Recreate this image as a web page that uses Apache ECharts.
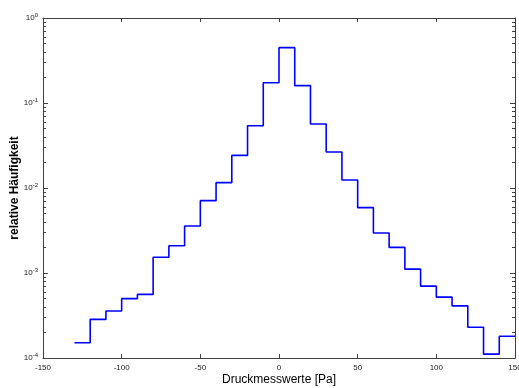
<!DOCTYPE html>
<html>
<head>
<meta charset="utf-8">
<script src="https://cdn.jsdelivr.net/npm/echarts@6/dist/echarts.min.js"></script>
<style>
  html, body { margin: 0; padding: 0; background: #fff; }
  #chart { width: 519px; height: 388px; }
</style>
</head>
<body>
<div id="chart"></div>
<script>
// Histogram of pressure readings: left bin edges (Pa) and relative frequency per bin
const binEdges = [-130, -120, -110, -100, -90, -80, -70, -60, -50, -40, -30, -20, -10, 0,
                  10, 20, 30, 40, 50, 60, 70, 80, 90, 100, 110, 120, 130, 140];
const binEnd = 150;
const freq = [1.51e-4, 2.85e-4, 3.57e-4, 4.99e-4, 5.6e-4, 1.53e-3, 2.09e-3, 3.57e-3, 7.1e-3,
              1.156e-2, 2.42e-2, 5.41e-2, 0.173, 0.448, 0.160, 0.0566, 0.0265, 0.0124,
              5.87e-3, 2.96e-3, 2.0e-3, 1.11e-3, 7.0e-4, 5.2e-4, 4.1e-4, 2.3e-4, 1.11e-4, 1.8e-4];

const xTicks = [-150, -100, -50, 0, 50, 100, 150];
const yDecades = [-4, -3, -2, -1, 0];

// minor tick positions (2..9 within each decade), expressed as log10 values
const minorLog = [];
yDecades.slice(0, -1).forEach(d => {
  for (let k = 2; k <= 9; k++) minorLog.push(d + Math.log10(k));
});

// stair outline: each bin starts at its left edge; the last level runs to binEnd
const stairData = binEdges.map((x, i) => [x, freq[i]]);
stairData.push([binEnd, freq[freq.length - 1]]);

const FONT = '"Liberation Sans", Arial, Helvetica, sans-serif';
const AX = '#404040';

const chart = echarts.init(document.getElementById('chart'), null, { renderer: 'canvas' });

const boxAxisLine = { show: true, onZero: false, lineStyle: { color: AX, width: 1 } };

chart.setOption({
  animation: false,
  backgroundColor: '#fff',
  grid: { left: 43, right: 4, top: 18, bottom: 30, containLabel: false, outerBoundsMode: 'none' },
  xAxis: [
    {
      type: 'value', min: -150, max: 150, interval: 50, position: 'bottom',
      name: 'Druckmesswerte [Pa]', nameLocation: 'middle', nameGap: 16, nameMoveOverlap: false,
      nameTextStyle: { fontFamily: FONT, fontSize: 12, color: '#000' },
      axisLine: boxAxisLine,
      axisTick: { show: true, inside: true, length: 4, lineStyle: { color: AX } },
      axisLabel: { fontFamily: FONT, fontSize: 8, color: '#222', margin: 6,
                   customValues: xTicks },
      splitLine: { show: false }
    },
    {
      type: 'value', min: -150, max: 150, interval: 50, position: 'top',
      axisLine: boxAxisLine,
      axisTick: { show: true, inside: true, length: 4, lineStyle: { color: AX } },
      axisLabel: { show: false },
      splitLine: { show: false }
    }
  ],
  yAxis: [
    {
      type: 'log', logBase: 10, min: 1e-4, max: 1, position: 'left',
      name: 'relative Häufigkeit', nameLocation: 'middle', nameGap: 22, nameMoveOverlap: false,
      nameTextStyle: { fontFamily: FONT, fontSize: 12, fontWeight: 'bold', color: '#000' },
      axisLine: boxAxisLine,
      axisTick: { show: true, inside: true, length: 5, lineStyle: { color: AX } },
      axisLabel: {
        fontFamily: FONT, fontSize: 8, color: '#222', margin: 5,
        formatter: v => '10{sup|' + Math.round(Math.log10(v)) + '}',
        rich: { sup: { fontSize: 6, fontFamily: FONT, color: '#222', verticalAlign: 'top', padding: [0, 0, 5, 0] } }
      },
      splitLine: { show: false }
    },
    {
      type: 'log', logBase: 10, min: 1e-4, max: 1, position: 'right',
      axisLine: boxAxisLine,
      axisTick: { show: true, inside: true, length: 5, lineStyle: { color: AX } },
      axisLabel: { show: false },
      splitLine: { show: false }
    },
    {
      // minor ticks, left side
      type: 'value', min: -4, max: 0, position: 'left',
      axisLine: { show: false, onZero: false },
      axisTick: { show: true, inside: true, length: 3, customValues: minorLog, lineStyle: { color: AX } },
      axisLabel: { show: false },
      splitLine: { show: false }
    },
    {
      // minor ticks, right side
      type: 'value', min: -4, max: 0, position: 'right',
      axisLine: { show: false, onZero: false },
      axisTick: { show: true, inside: true, length: 3, customValues: minorLog, lineStyle: { color: AX } },
      axisLabel: { show: false },
      splitLine: { show: false }
    }
  ],
  series: [
    {
      type: 'line',
      xAxisIndex: 0, yAxisIndex: 0,
      step: 'end',
      data: stairData,
      showSymbol: false,
      lineStyle: { color: '#0000ff', width: 1.6 },
      z: 3
    }
  ]
});
</script>
</body>
</html>
